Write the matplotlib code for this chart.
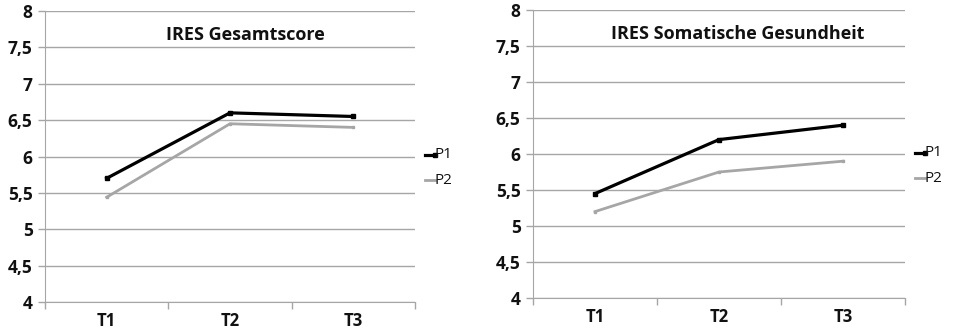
import matplotlib
matplotlib.use('Agg')
import matplotlib.pyplot as plt

plt.rcParams['font.family'] = ['Open Sans', 'DejaVu Sans']
plt.rcParams['font.weight'] = 'bold'

zeitpunkte = ['T1', 'T2', 'T3']
gesamt_p1 = [5.70, 6.60, 6.55]
gesamt_p2 = [5.44, 6.45, 6.40]
soma_p1 = [5.45, 6.20, 6.40]
soma_p2 = [5.20, 5.75, 5.90]
titel = ['IRES Gesamtscore', 'IRES Somatische Gesundheit']
y_ticks = [4, 4.5, 5, 5.5, 6, 6.5, 7, 7.5, 8]

W, H = 960, 334
fig = plt.figure(figsize=(W / 100, H / 100), dpi=100)

# axes boxes in pixel units: left, right, top, bottom
boxes = [(45, 415, 11, 302), (533, 905, 10, 298)]
title_pos = [(245, 35), (738, 34)]
legend_pos = [(425, 155, 180), (915, 153, 178)]
series = [(gesamt_p1, gesamt_p2), (soma_p1, soma_p2)]

grid_col = '#a6a6a6'
p2_col = '#a6a6a6'
text_col = '#111111'

# german decimal comma
y_labels = [('%g' % v).replace('.', ',') for v in y_ticks]

for i in range(2):
    l, r, t, b = boxes[i]
    ax = fig.add_axes([l / W, 1 - b / H, (r - l) / W, (b - t) / H])
    x = list(range(len(zeitpunkte)))
    p1, p2 = series[i]
    ax.plot(x, p2, '-', color=p2_col, lw=2.0, marker='s', ms=2, mec=p2_col, mfc=p2_col)
    ax.plot(x, p1, '-', color='black', lw=2.3, marker='s', ms=3, mec='black', mfc='black')
    ax.set_xlim(-0.5, 2.5)
    ax.set_ylim(4, 8)
    ax.set_yticks(y_ticks, labels=y_labels)
    ax.set_xticks(x, labels=zeitpunkte)
    ax.set_xticks([-0.5, 0.5, 1.5, 2.5], minor=True)
    ax.tick_params(axis='x', which='major', length=0, pad=7, labelsize=12, labelcolor=text_col)
    ax.tick_params(axis='x', which='minor', length=5, color=grid_col, width=1)
    ax.tick_params(axis='y', length=5, color=grid_col, width=1, pad=4, labelsize=12.5,
                   labelcolor=text_col)
    ax.yaxis.grid(True, color=grid_col, lw=1)
    ax.set_axisbelow(True)
    for s in ['top', 'right']:
        ax.spines[s].set_visible(False)
    ax.spines['left'].set_color(grid_col)
    ax.spines['bottom'].set_color(grid_col)

    tx, ty = title_pos[i]
    fig.text(tx / W, 1 - ty / H, titel[i], ha='center', va='center',
             fontsize=13, fontweight='bold', color=text_col)

    lx, ly1, ly2 = legend_pos[i]
    fig.lines.append(plt.Line2D([lx / W, (lx + 10) / W], [1 - ly1 / H] * 2,
                                color='black', lw=2.3, marker='s', ms=3,
                                markevery=[1], transform=fig.transFigure))
    fig.lines.append(plt.Line2D([lx / W, (lx + 10) / W], [1 - ly2 / H] * 2,
                                color=p2_col, lw=2.0, transform=fig.transFigure))
    fig.text((lx + 10) / W, 1 - ly1 / H, 'P1', ha='left', va='center', fontsize=11,
             fontweight='normal', color=text_col)
    fig.text((lx + 10) / W, 1 - ly2 / H, 'P2', ha='left', va='center', fontsize=11,
             fontweight='normal', color=text_col)

fig.savefig('out.png', dpi=100)
